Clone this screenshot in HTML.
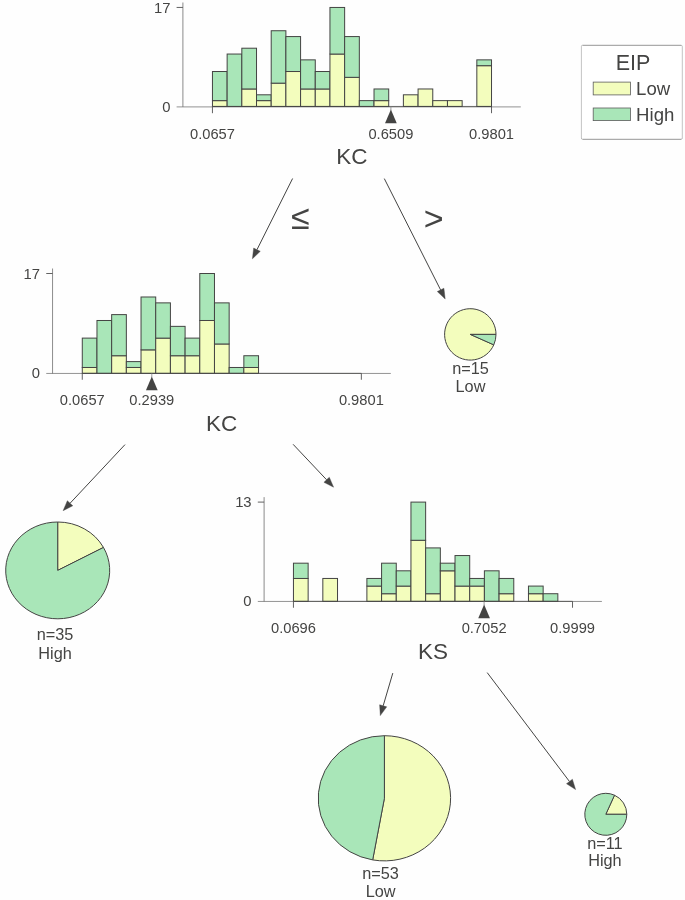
<!DOCTYPE html>
<html><head><meta charset="utf-8"><title>Decision tree</title>
<style>html,body{margin:0;padding:0;background:#fefefe;}svg{display:block;}</style></head>
<body><svg width="685" height="900" viewBox="0 0 685 900" font-family="'Liberation Sans', Arial, sans-serif" fill="#444443">
<rect x="212.45" y="100.63" width="14.69" height="5.82" fill="#F3FDBD" stroke="#444443" stroke-width="1"/>
<rect x="212.45" y="71.51" width="14.69" height="29.12" fill="#A9E6B8" stroke="#444443" stroke-width="1"/>
<rect x="227.14" y="54.04" width="14.69" height="52.41" fill="#A9E6B8" stroke="#444443" stroke-width="1"/>
<rect x="241.83" y="88.98" width="14.69" height="17.47" fill="#F3FDBD" stroke="#444443" stroke-width="1"/>
<rect x="241.83" y="48.21" width="14.69" height="40.76" fill="#A9E6B8" stroke="#444443" stroke-width="1"/>
<rect x="256.51" y="100.63" width="14.69" height="5.82" fill="#F3FDBD" stroke="#444443" stroke-width="1"/>
<rect x="256.51" y="94.80" width="14.69" height="5.82" fill="#A9E6B8" stroke="#444443" stroke-width="1"/>
<rect x="271.20" y="83.16" width="14.69" height="23.29" fill="#F3FDBD" stroke="#444443" stroke-width="1"/>
<rect x="271.20" y="30.74" width="14.69" height="52.41" fill="#A9E6B8" stroke="#444443" stroke-width="1"/>
<rect x="285.89" y="71.51" width="14.69" height="34.94" fill="#F3FDBD" stroke="#444443" stroke-width="1"/>
<rect x="285.89" y="36.57" width="14.69" height="34.94" fill="#A9E6B8" stroke="#444443" stroke-width="1"/>
<rect x="300.58" y="88.98" width="14.69" height="17.47" fill="#F3FDBD" stroke="#444443" stroke-width="1"/>
<rect x="300.58" y="59.86" width="14.69" height="29.12" fill="#A9E6B8" stroke="#444443" stroke-width="1"/>
<rect x="315.27" y="88.98" width="14.69" height="17.47" fill="#F3FDBD" stroke="#444443" stroke-width="1"/>
<rect x="315.27" y="71.51" width="14.69" height="17.47" fill="#A9E6B8" stroke="#444443" stroke-width="1"/>
<rect x="329.95" y="54.04" width="14.69" height="52.41" fill="#F3FDBD" stroke="#444443" stroke-width="1"/>
<rect x="329.95" y="7.45" width="14.69" height="46.59" fill="#A9E6B8" stroke="#444443" stroke-width="1"/>
<rect x="344.64" y="77.33" width="14.69" height="29.12" fill="#F3FDBD" stroke="#444443" stroke-width="1"/>
<rect x="344.64" y="36.57" width="14.69" height="40.76" fill="#A9E6B8" stroke="#444443" stroke-width="1"/>
<rect x="359.33" y="100.63" width="14.69" height="5.82" fill="#A9E6B8" stroke="#444443" stroke-width="1"/>
<rect x="374.02" y="100.63" width="14.69" height="5.82" fill="#F3FDBD" stroke="#444443" stroke-width="1"/>
<rect x="374.02" y="88.98" width="14.69" height="11.65" fill="#A9E6B8" stroke="#444443" stroke-width="1"/>
<rect x="403.39" y="94.80" width="14.69" height="11.65" fill="#F3FDBD" stroke="#444443" stroke-width="1"/>
<rect x="418.08" y="88.98" width="14.69" height="17.47" fill="#F3FDBD" stroke="#444443" stroke-width="1"/>
<rect x="432.77" y="100.63" width="14.69" height="5.82" fill="#F3FDBD" stroke="#444443" stroke-width="1"/>
<rect x="447.46" y="100.63" width="14.69" height="5.82" fill="#F3FDBD" stroke="#444443" stroke-width="1"/>
<rect x="476.83" y="65.69" width="14.69" height="40.76" fill="#F3FDBD" stroke="#444443" stroke-width="1"/>
<rect x="476.83" y="59.86" width="14.69" height="5.82" fill="#A9E6B8" stroke="#444443" stroke-width="1"/>
<line x1="182.9" y1="2.50" x2="182.9" y2="106.9" stroke="#5a5a5a" stroke-width="0.7"/>
<line x1="176.60" y1="106.9" x2="520.80" y2="106.9" stroke="#5a5a5a" stroke-width="0.65"/>
<line x1="212.45" y1="106.45" x2="491.52" y2="106.45" stroke="#444443" stroke-width="0.72"/>
<text x="170.4" y="111.50" font-size="14.8" text-anchor="end">0</text>
<line x1="176.60" y1="7.45" x2="182.9" y2="7.45" stroke="#505050" stroke-width="0.9"/>
<text x="170.4" y="12.50" font-size="14.8" text-anchor="end">17</text>
<line x1="212.45" y1="106.45" x2="212.45" y2="113.20" stroke="#505050" stroke-width="0.9"/>
<text x="212.45" y="138.55" font-size="14.7" text-anchor="middle">0.0657</text>
<line x1="491.52" y1="106.45" x2="491.52" y2="113.20" stroke="#505050" stroke-width="0.9"/>
<text x="491.52" y="138.55" font-size="14.7" text-anchor="middle">0.9801</text>
<line x1="390.90" y1="106.45" x2="390.90" y2="110.45" stroke="#888" stroke-width="0.8"/>
<polygon points="390.90,109.55 385.05,123.25 396.75,123.25" fill="#444443"/>
<text x="390.90" y="138.55" font-size="14.7" text-anchor="middle">0.6509</text>
<text x="351.85" y="164.45" font-size="22.5" text-anchor="middle">KC</text>
<rect x="82.28" y="367.48" width="14.69" height="5.87" fill="#F3FDBD" stroke="#444443" stroke-width="1"/>
<rect x="82.28" y="338.11" width="14.69" height="29.37" fill="#A9E6B8" stroke="#444443" stroke-width="1"/>
<rect x="96.97" y="320.49" width="14.69" height="52.86" fill="#A9E6B8" stroke="#444443" stroke-width="1"/>
<rect x="111.66" y="355.73" width="14.69" height="17.62" fill="#F3FDBD" stroke="#444443" stroke-width="1"/>
<rect x="111.66" y="314.61" width="14.69" height="41.11" fill="#A9E6B8" stroke="#444443" stroke-width="1"/>
<rect x="126.34" y="367.48" width="14.69" height="5.87" fill="#F3FDBD" stroke="#444443" stroke-width="1"/>
<rect x="126.34" y="361.60" width="14.69" height="5.87" fill="#A9E6B8" stroke="#444443" stroke-width="1"/>
<rect x="141.03" y="349.86" width="14.69" height="23.49" fill="#F3FDBD" stroke="#444443" stroke-width="1"/>
<rect x="141.03" y="296.99" width="14.69" height="52.86" fill="#A9E6B8" stroke="#444443" stroke-width="1"/>
<rect x="155.72" y="338.11" width="14.69" height="35.24" fill="#F3FDBD" stroke="#444443" stroke-width="1"/>
<rect x="155.72" y="302.87" width="14.69" height="35.24" fill="#A9E6B8" stroke="#444443" stroke-width="1"/>
<rect x="170.41" y="355.73" width="14.69" height="17.62" fill="#F3FDBD" stroke="#444443" stroke-width="1"/>
<rect x="170.41" y="326.36" width="14.69" height="29.37" fill="#A9E6B8" stroke="#444443" stroke-width="1"/>
<rect x="185.10" y="355.73" width="14.69" height="17.62" fill="#F3FDBD" stroke="#444443" stroke-width="1"/>
<rect x="185.10" y="338.11" width="14.69" height="17.62" fill="#A9E6B8" stroke="#444443" stroke-width="1"/>
<rect x="199.78" y="320.49" width="14.69" height="52.86" fill="#F3FDBD" stroke="#444443" stroke-width="1"/>
<rect x="199.78" y="273.50" width="14.69" height="46.99" fill="#A9E6B8" stroke="#444443" stroke-width="1"/>
<rect x="214.47" y="343.98" width="14.69" height="29.37" fill="#F3FDBD" stroke="#444443" stroke-width="1"/>
<rect x="214.47" y="302.87" width="14.69" height="41.11" fill="#A9E6B8" stroke="#444443" stroke-width="1"/>
<rect x="229.16" y="367.48" width="14.69" height="5.87" fill="#A9E6B8" stroke="#444443" stroke-width="1"/>
<rect x="243.85" y="367.48" width="14.69" height="5.87" fill="#F3FDBD" stroke="#444443" stroke-width="1"/>
<rect x="243.85" y="355.73" width="14.69" height="11.75" fill="#A9E6B8" stroke="#444443" stroke-width="1"/>
<line x1="52.55" y1="268.51" x2="52.55" y2="373.45" stroke="#5a5a5a" stroke-width="0.7"/>
<line x1="46.25" y1="373.45" x2="390.80" y2="373.45" stroke="#5a5a5a" stroke-width="0.65"/>
<line x1="82.28" y1="373.35" x2="361.35" y2="373.35" stroke="#444443" stroke-width="0.72"/>
<text x="40.05" y="378.40" font-size="14.8" text-anchor="end">0</text>
<line x1="46.25" y1="273.50" x2="52.55" y2="273.50" stroke="#505050" stroke-width="0.9"/>
<text x="40.05" y="278.55" font-size="14.8" text-anchor="end">17</text>
<line x1="82.28" y1="373.35" x2="82.28" y2="379.75" stroke="#505050" stroke-width="0.9"/>
<text x="82.28" y="405.45" font-size="14.7" text-anchor="middle">0.0657</text>
<line x1="361.35" y1="373.35" x2="361.35" y2="379.75" stroke="#505050" stroke-width="0.9"/>
<text x="361.35" y="405.45" font-size="14.7" text-anchor="middle">0.9801</text>
<line x1="151.80" y1="373.35" x2="151.80" y2="377.35" stroke="#888" stroke-width="0.8"/>
<polygon points="151.80,376.45 145.95,390.15 157.65,390.15" fill="#444443"/>
<text x="151.80" y="405.45" font-size="14.7" text-anchor="middle">0.2939</text>
<text x="221.68" y="431.35" font-size="22.5" text-anchor="middle">KC</text>
<rect x="293.45" y="578.45" width="14.69" height="22.90" fill="#F3FDBD" stroke="#444443" stroke-width="1"/>
<rect x="293.45" y="563.18" width="14.69" height="15.27" fill="#A9E6B8" stroke="#444443" stroke-width="1"/>
<rect x="322.83" y="578.45" width="14.69" height="22.90" fill="#F3FDBD" stroke="#444443" stroke-width="1"/>
<rect x="366.89" y="586.08" width="14.69" height="15.27" fill="#F3FDBD" stroke="#444443" stroke-width="1"/>
<rect x="366.89" y="578.45" width="14.69" height="7.63" fill="#A9E6B8" stroke="#444443" stroke-width="1"/>
<rect x="381.58" y="593.72" width="14.69" height="7.63" fill="#F3FDBD" stroke="#444443" stroke-width="1"/>
<rect x="381.58" y="563.18" width="14.69" height="30.54" fill="#A9E6B8" stroke="#444443" stroke-width="1"/>
<rect x="396.27" y="586.08" width="14.69" height="15.27" fill="#F3FDBD" stroke="#444443" stroke-width="1"/>
<rect x="396.27" y="570.81" width="14.69" height="15.27" fill="#A9E6B8" stroke="#444443" stroke-width="1"/>
<rect x="410.95" y="540.27" width="14.69" height="61.08" fill="#F3FDBD" stroke="#444443" stroke-width="1"/>
<rect x="410.95" y="502.10" width="14.69" height="38.17" fill="#A9E6B8" stroke="#444443" stroke-width="1"/>
<rect x="425.64" y="593.72" width="14.69" height="7.63" fill="#F3FDBD" stroke="#444443" stroke-width="1"/>
<rect x="425.64" y="547.91" width="14.69" height="45.81" fill="#A9E6B8" stroke="#444443" stroke-width="1"/>
<rect x="440.33" y="570.81" width="14.69" height="30.54" fill="#F3FDBD" stroke="#444443" stroke-width="1"/>
<rect x="440.33" y="563.18" width="14.69" height="7.63" fill="#A9E6B8" stroke="#444443" stroke-width="1"/>
<rect x="455.02" y="586.08" width="14.69" height="15.27" fill="#F3FDBD" stroke="#444443" stroke-width="1"/>
<rect x="455.02" y="555.54" width="14.69" height="30.54" fill="#A9E6B8" stroke="#444443" stroke-width="1"/>
<rect x="469.71" y="586.08" width="14.69" height="15.27" fill="#F3FDBD" stroke="#444443" stroke-width="1"/>
<rect x="469.71" y="578.45" width="14.69" height="7.63" fill="#A9E6B8" stroke="#444443" stroke-width="1"/>
<rect x="484.39" y="570.81" width="14.69" height="30.54" fill="#A9E6B8" stroke="#444443" stroke-width="1"/>
<rect x="499.08" y="593.72" width="14.69" height="7.63" fill="#F3FDBD" stroke="#444443" stroke-width="1"/>
<rect x="499.08" y="578.45" width="14.69" height="15.27" fill="#A9E6B8" stroke="#444443" stroke-width="1"/>
<rect x="528.46" y="593.72" width="14.69" height="7.63" fill="#F3FDBD" stroke="#444443" stroke-width="1"/>
<rect x="528.46" y="586.08" width="14.69" height="7.63" fill="#A9E6B8" stroke="#444443" stroke-width="1"/>
<rect x="543.15" y="593.72" width="14.69" height="7.63" fill="#A9E6B8" stroke="#444443" stroke-width="1"/>
<line x1="264.1" y1="497.14" x2="264.1" y2="601.45" stroke="#5a5a5a" stroke-width="0.7"/>
<line x1="257.80" y1="601.45" x2="601.90" y2="601.45" stroke="#5a5a5a" stroke-width="0.65"/>
<line x1="293.45" y1="601.35" x2="572.52" y2="601.35" stroke="#444443" stroke-width="0.72"/>
<text x="251.60000000000002" y="606.40" font-size="14.8" text-anchor="end">0</text>
<line x1="257.80" y1="502.10" x2="264.1" y2="502.10" stroke="#505050" stroke-width="0.9"/>
<text x="251.60000000000002" y="507.15" font-size="14.8" text-anchor="end">13</text>
<line x1="293.45" y1="601.35" x2="293.45" y2="607.75" stroke="#505050" stroke-width="0.9"/>
<text x="293.45" y="633.45" font-size="14.7" text-anchor="middle">0.0696</text>
<line x1="572.52" y1="601.35" x2="572.52" y2="607.75" stroke="#505050" stroke-width="0.9"/>
<text x="572.52" y="633.45" font-size="14.7" text-anchor="middle">0.9999</text>
<line x1="484.10" y1="601.35" x2="484.10" y2="605.35" stroke="#888" stroke-width="0.8"/>
<polygon points="484.10,604.45 478.25,618.15 489.95,618.15" fill="#444443"/>
<text x="484.10" y="633.45" font-size="14.7" text-anchor="middle">0.7052</text>
<text x="433.00" y="659.35" font-size="22.5" text-anchor="middle">KS</text>
<rect x="581.3" y="45.3" width="101" height="94" rx="1.5" fill="#fff" stroke="none"/>
<line x1="582.5" y1="45.3" x2="681.1" y2="45.3" stroke="#8a8a8a" stroke-width="0.9"/>
<line x1="582.5" y1="139.3" x2="681.1" y2="139.3" stroke="#8a8a8a" stroke-width="0.9"/>
<line x1="581.4" y1="46.5" x2="581.4" y2="138.1" stroke="#c4c4c4" stroke-width="1"/>
<line x1="682.3" y1="46.5" x2="682.3" y2="138.1" stroke="#c4c4c4" stroke-width="1"/>
<path d="M581.4,46.5 Q581.4,45.3 582.5,45.3 M681.1,45.3 Q682.3,45.3 682.3,46.5 M682.3,138.1 Q682.3,139.3 681.1,139.3 M582.5,139.3 Q581.4,139.3 581.4,138.1" fill="none" stroke="#b0b0b0" stroke-width="0.9"/>
<text x="633" y="70.3" font-size="21.5" text-anchor="middle">EIP</text>
<rect x="593.2" y="82.1" width="37.2" height="12.8" fill="#F3FDBD" stroke="#5c5c5c" stroke-width="0.8"/>
<text x="636.1" y="94.8" font-size="18.6">Low</text>
<rect x="593.2" y="108.0" width="37.2" height="12.6" fill="#A9E6B8" stroke="#5c5c5c" stroke-width="0.8"/>
<text x="636.1" y="120.7" font-size="18.6">High</text>
<line x1="292.60" y1="178.50" x2="256.97" y2="249.68" stroke="#444443" stroke-width="1"/><polygon points="252.40,258.80 253.66,248.02 260.27,251.34" fill="#444443" stroke="#444443" stroke-width="0.4" stroke-linejoin="round"/>
<line x1="384.30" y1="178.60" x2="440.60" y2="289.90" stroke="#444443" stroke-width="1"/><polygon points="445.20,299.00 437.29,291.57 443.90,288.23" fill="#444443" stroke="#444443" stroke-width="0.4" stroke-linejoin="round"/>
<line x1="125.00" y1="444.60" x2="70.07" y2="503.25" stroke="#444443" stroke-width="1"/><polygon points="63.10,510.70 67.37,500.73 72.77,505.78" fill="#444443" stroke="#444443" stroke-width="0.4" stroke-linejoin="round"/>
<line x1="293.10" y1="444.30" x2="326.60" y2="479.78" stroke="#444443" stroke-width="1"/><polygon points="333.60,487.20 323.91,482.32 329.29,477.24" fill="#444443" stroke="#444443" stroke-width="0.4" stroke-linejoin="round"/>
<line x1="392.80" y1="673.10" x2="383.18" y2="705.81" stroke="#444443" stroke-width="1"/><polygon points="380.30,715.60 379.63,704.77 386.73,706.86" fill="#444443" stroke="#444443" stroke-width="0.4" stroke-linejoin="round"/>
<line x1="487.20" y1="672.60" x2="569.45" y2="781.46" stroke="#444443" stroke-width="1"/><polygon points="575.60,789.60 566.50,783.69 572.40,779.23" fill="#444443" stroke="#444443" stroke-width="0.4" stroke-linejoin="round"/>
<text x="300.4" y="229" font-size="34" text-anchor="middle">≤</text>
<text x="433.6" y="229.7" font-size="34" text-anchor="middle">&gt;</text>
<path d="M470.30,334.40 L496.00,334.40 A25.70,25.70 0 1 0 493.78,344.85 Z" fill="#F3FDBD" stroke="#444443" stroke-width="1" stroke-linejoin="round"/>
<path d="M470.30,334.40 L493.78,344.85 A25.70,25.70 0 0 0 496.00,334.40 Z" fill="#A9E6B8" stroke="#444443" stroke-width="1" stroke-linejoin="round"/>
<text x="470.50" y="373.70" font-size="16.3" text-anchor="middle">n=15</text>
<text x="470.50" y="391.50" font-size="16.3" text-anchor="middle">Low</text>
<path d="M57.70,570.40 L103.48,547.45 A52.00,48.40 0 0 0 57.70,522.00 Z" fill="#F3FDBD" stroke="#444443" stroke-width="1" stroke-linejoin="round"/>
<path d="M57.70,570.40 L57.70,522.00 A52.00,48.40 0 1 0 103.48,547.45 Z" fill="#A9E6B8" stroke="#444443" stroke-width="1" stroke-linejoin="round"/>
<text x="55.10" y="639.90" font-size="16.3" text-anchor="middle">n=35</text>
<text x="55.10" y="658.50" font-size="16.3" text-anchor="middle">High</text>
<path d="M384.40,798.30 L372.68,859.91 A66.20,62.60 0 1 0 384.40,735.70 Z" fill="#F3FDBD" stroke="#444443" stroke-width="1" stroke-linejoin="round"/>
<path d="M384.40,798.30 L384.40,735.70 A66.20,62.60 0 0 0 372.68,859.91 Z" fill="#A9E6B8" stroke="#444443" stroke-width="1" stroke-linejoin="round"/>
<text x="380.60" y="879.00" font-size="16.3" text-anchor="middle">n=53</text>
<text x="380.60" y="897.40" font-size="16.3" text-anchor="middle">Low</text>
<path d="M605.80,814.30 L626.80,814.30 A21.00,21.00 0 0 0 614.53,795.20 Z" fill="#F3FDBD" stroke="#444443" stroke-width="1" stroke-linejoin="round"/>
<path d="M605.80,814.30 L614.53,795.20 A21.00,21.00 0 1 0 626.80,814.30 Z" fill="#A9E6B8" stroke="#444443" stroke-width="1" stroke-linejoin="round"/>
<text x="604.90" y="848.90" font-size="16.3" text-anchor="middle">n=11</text>
<text x="604.90" y="866.00" font-size="16.3" text-anchor="middle">High</text>
</svg></body></html>
